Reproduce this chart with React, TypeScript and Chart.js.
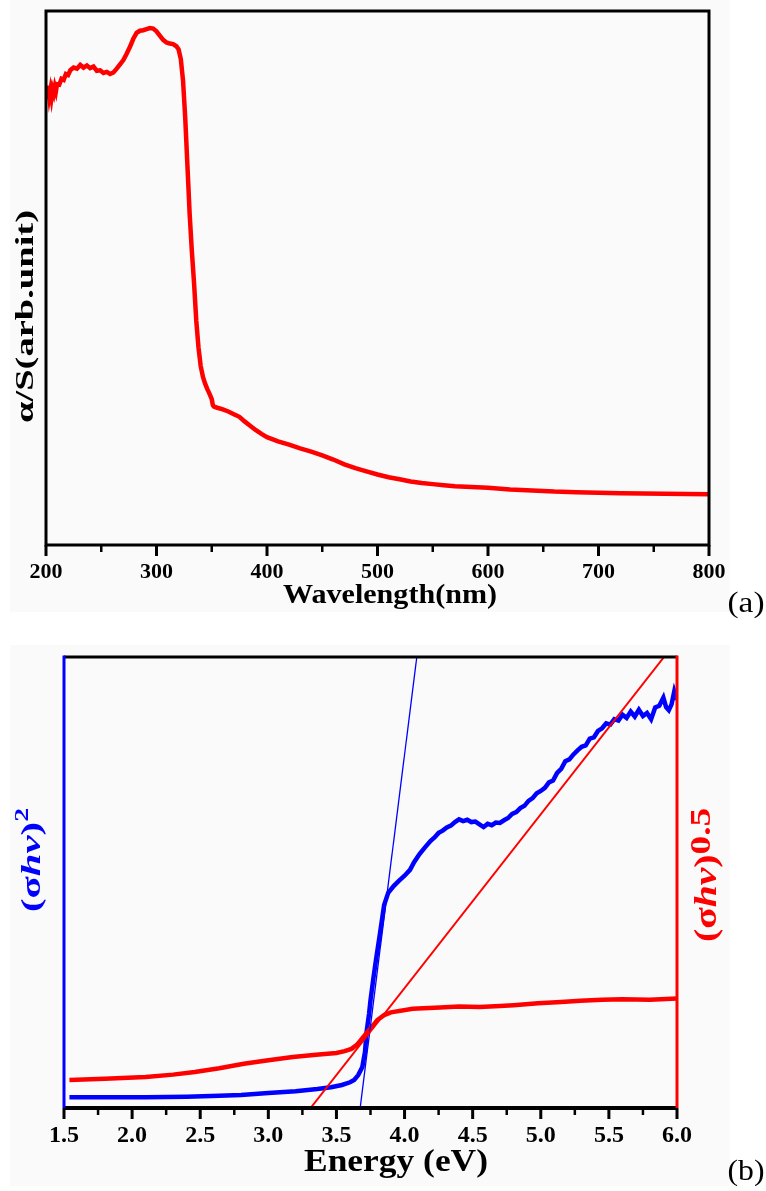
import React, { useEffect, useRef } from "react";
import { Chart, registerables } from "chart.js";

Chart.register(...registerables);

// ---------- Panel (a) data ----------
const wavelength = [
  200, 201, 202, 203, 204, 205, 206, 207, 208, 209, 210, 212, 214, 216, 218, 220, 222, 225, 228, 231,
  234, 237, 240, 243, 246, 249, 252, 255, 258, 261, 264, 267, 270, 273, 276, 279, 282, 285, 288, 291,
  294, 297, 300, 303, 306, 309, 312, 315, 318, 320, 322, 324, 326, 328, 330, 332, 334, 336, 338, 340,
  342, 344, 346, 348, 350, 351, 352, 355, 360, 365, 370, 375, 380, 385, 390, 395, 400, 410, 420, 430,
  440, 450, 460, 470, 480, 490, 500, 510, 520, 530, 540, 550, 560, 570, 580, 590, 600, 620, 640, 660,
  680, 700, 720, 740, 760, 780, 800,
];
const absorbance = [
  85.5, 83.5, 86, 84, 85.2, 83.8, 85.3, 84.6, 85.8, 85, 86.3, 86.2, 87.3, 87.1, 88.2, 88, 88.9, 89.4, 89.2, 89.9,
  89.4, 89.8, 89.3, 89.6, 88.8, 88.9, 88.4, 88.6, 88.2, 88.5, 89.2, 90, 90.8, 92, 93.3, 94.8, 95.9, 96.3, 96.4, 96.6,
  96.8, 96.7, 96.2, 95.4, 94.6, 94.1, 93.9, 93.8, 93.4, 92.8, 91, 87, 80, 71, 62, 55, 49, 42, 37, 33.5,
  31.5, 30.2, 29.2, 28.3, 27.3, 26.2, 25.9, 25.7, 25.4, 25.0, 24.5, 24.0, 23.1, 22.3, 21.5, 20.8, 20.2, 19.4, 18.8, 18.1,
  17.5, 16.8, 16.0, 15.1, 14.4, 13.8, 13.2, 12.7, 12.3, 11.9, 11.6, 11.4, 11.2, 11.0, 10.9, 10.8, 10.7, 10.4, 10.2, 10.0,
  9.9, 9.8, 9.7, 9.65, 9.6, 9.55, 9.5,
];
const wavelengthMajorTicks = [200, 300, 400, 500, 600, 700, 800];
const wavelengthTickLabels = ["200", "300", "400", "500", "600", "700", "800"];

// ---------- Panel (b) data ----------
const energyBlue = [
  1.54, 1.8, 2.1, 2.4, 2.64, 2.8, 3.0, 3.2, 3.36, 3.46, 3.54, 3.6, 3.63, 3.66, 3.69, 3.71, 3.72, 3.74, 3.75, 3.77,
  3.79, 3.82, 3.85, 3.88, 3.92, 3.96, 4.0, 4.04, 4.07, 4.11, 4.15, 4.19, 4.22, 4.25, 4.28, 4.31, 4.34, 4.37, 4.4, 4.43,
  4.46, 4.49, 4.52, 4.55, 4.58, 4.61, 4.64, 4.67, 4.7, 4.73, 4.76, 4.79, 4.82, 4.85, 4.88, 4.91, 4.94, 4.97, 5.0, 5.03,
  5.06, 5.09, 5.12, 5.15, 5.18, 5.21, 5.24, 5.27, 5.3, 5.33, 5.36, 5.39, 5.42, 5.45, 5.48, 5.51, 5.54, 5.57, 5.6, 5.63,
  5.66, 5.69, 5.72, 5.75, 5.78, 5.81, 5.84, 5.87, 5.9, 5.92, 5.94, 5.96, 5.98, 6.0,
];
const sigmaHvSquared = [
  2.4, 2.4, 2.4, 2.5, 2.7, 2.9, 3.3, 3.7, 4.2, 4.6, 5.1, 5.7, 6.2, 7.3, 9.1, 12.5, 16.6, 21, 23.9, 28.5,
  32.8, 38.8, 45.0, 47.7, 49.2, 50.4, 51.5, 52.8, 54.5, 56.3, 57.8, 59.2, 60.0, 61.0, 61.5, 62.2, 62.6, 63.4, 64.0, 63.6,
  63.9, 63.4, 63.5, 62.9, 62.3, 63.0, 62.7, 63.3, 63.2, 63.8, 64.3, 65.2, 65.6, 66.5, 67.0, 68.1, 68.7, 69.8, 70.3, 71.0,
  72.2, 72.6, 74.3, 75.2, 76.9, 77.3, 78.4, 79.3, 80.1, 80.4, 81.9, 82.2, 83.6, 84.2, 85.3, 85.0, 86.2, 85.9, 87.2, 86.5,
  87.9, 86.8, 88.3, 86.9, 87.6, 86.2, 88.8, 89.2, 91.0, 88.9, 88.2, 89.5, 92.4, 90.5,
];
const energyRed = [
  1.54, 1.8, 2.1, 2.3, 2.46, 2.64, 2.82, 3.0, 3.18, 3.35, 3.5, 3.56, 3.61, 3.65, 3.68, 3.72, 3.76, 3.8, 3.85, 3.9,
  4.06, 4.26, 4.4, 4.55, 4.7, 4.8, 4.98, 5.15, 5.29, 5.45, 5.6, 5.8, 6.0,
];
const sigmaHvHalf = [
  6.2, 6.5, 6.9, 7.4, 8.0, 8.8, 9.8, 10.6, 11.3, 11.8, 12.2, 12.6, 13.1, 14.0, 15.1, 16.6, 18.0, 19.5, 20.6, 21.2,
  22.0, 22.3, 22.5, 22.4, 22.6, 22.8, 23.2, 23.5, 23.8, 24.0, 24.1, 24.0, 24.3,
];
const blueFitEnergy = [3.674, 4.09];
const blueFitValues = [0, 100];
const redFitEnergy = [3.31, 5.905];
const redFitValues = [0, 100];
const energyMajorTicks = [1.5, 2.0, 2.5, 3.0, 3.5, 4.0, 4.5, 5.0, 5.5, 6.0];
const energyTickLabels = ["1.5", "2.0", "2.5", "3.0", "3.5", "4.0", "4.5", "5.0", "5.5", "6.0"];

const SERIF = '"Liberation Serif", "Times New Roman", serif';
const PANEL_BG = "#fafafa";

type Part = { text: string; font: string; dy?: number };

function drawVerticalRich(
  ctx: CanvasRenderingContext2D,
  parts: Part[],
  cx: number,
  cy: number,
  targetLen: number,
  baseOffset: number,
  color: string
) {
  ctx.save();
  ctx.fillStyle = color;
  const widths: number[] = [];
  let total = 0;
  for (const p of parts) {
    ctx.font = p.font;
    const w = ctx.measureText(p.text).width;
    widths.push(w);
    total += w;
  }
  const sx = targetLen / total;
  ctx.translate(cx, cy);
  ctx.rotate(-Math.PI / 2);
  ctx.scale(sx, 1);
  ctx.textBaseline = "alphabetic";
  ctx.textAlign = "left";
  let x = -total / 2;
  parts.forEach((p, i) => {
    ctx.font = p.font;
    ctx.fillText(p.text, x, baseOffset + (p.dy || 0));
    x += widths[i];
  });
  ctx.restore();
}

function drawHorizontalScaled(
  ctx: CanvasRenderingContext2D,
  text: string,
  font: string,
  cx: number,
  cy: number,
  targetWidth: number,
  color: string
) {
  ctx.save();
  ctx.font = font;
  ctx.fillStyle = color;
  const w = ctx.measureText(text).width;
  ctx.translate(cx, cy);
  ctx.scale(targetWidth / w, 1);
  ctx.textAlign = "center";
  ctx.textBaseline = "middle";
  ctx.fillText(text, 0, 0);
  ctx.restore();
}

function matchIndex(list: number[], v: number) {
  for (let i = 0; i < list.length; i++) if (Math.abs(list[i] - v) < 1e-6) return i;
  return -1;
}

function tickMarksPlugin(majors: number[], majorLen: number, minorLen: number) {
  return {
    id: "tickMarks",
    afterDatasetsDraw(chart: any) {
      const { ctx, chartArea } = chart;
      const scale = chart.scales.x;
      ctx.save();
      ctx.strokeStyle = "#000";
      scale.ticks.forEach((t: any) => {
        const px = scale.getPixelForValue(t.value);
        const major = matchIndex(majors, t.value) >= 0;
        ctx.lineWidth = major ? 3 : 2.5;
        ctx.beginPath();
        ctx.moveTo(px, chartArea.bottom);
        ctx.lineTo(px, chartArea.bottom + (major ? majorLen : minorLen));
        ctx.stroke();
      });
      ctx.restore();
    },
  };
}

function ChartA() {
  const ref = useRef<HTMLCanvasElement>(null);
  useEffect(() => {
    const canvas = ref.current!;
    const chart = new Chart(canvas, {
      type: "line",
      data: {
        datasets: [
          {
            data: wavelength.map((x, i) => ({ x, y: absorbance[i] })),
            borderColor: "#ff0000",
            borderWidth: 4.5,
            pointRadius: 0,
            tension: 0,
            fill: false,
          },
        ],
      },
      options: {
        responsive: false,
        animation: false,
        events: [],
        layout: { padding: { left: 46, right: 57, top: 11, bottom: 0 } },
        plugins: { legend: { display: false }, tooltip: { enabled: false } },
        scales: {
          x: {
            type: "linear",
            min: 200,
            max: 800,
            afterFit: (s: any) => {
              s.height = 75;
            },
            grid: { display: false, drawTicks: false },
            border: { display: false },
            ticks: {
              stepSize: 50,
              autoSkip: false,
              maxRotation: 0,
              padding: 16.5,
              color: "#000",
              font: { family: SERIF, size: 22, weight: "bold", lineHeight: 1 },
              callback: (v: any) => {
                const i = matchIndex(wavelengthMajorTicks, Number(v));
                return i >= 0 ? wavelengthTickLabels[i] : "";
              },
            },
          },
          y: { display: false, min: 0, max: 100 },
        },
      },
      plugins: [
        {
          id: "bgA",
          beforeDraw(c: any) {
            const ctx = c.ctx;
            ctx.save();
            ctx.fillStyle = PANEL_BG;
            ctx.fillRect(10, 0, 720, 612);
            ctx.restore();
          },
        },
        tickMarksPlugin(wavelengthMajorTicks, 11, 7),
        {
          id: "frameA",
          afterDatasetsDraw(c: any) {
            const { ctx, chartArea: a } = c;
            ctx.save();
            ctx.strokeStyle = "#000";
            ctx.lineWidth = 3;
            ctx.strokeRect(a.left, a.top, a.right - a.left, a.bottom - a.top);
            ctx.restore();
          },
        },
        {
          id: "labelsA",
          afterDraw(c: any) {
            const ctx = c.ctx;
            drawVerticalRich(
              ctx,
              [{ text: "α/S(arb.unit)", font: `bold 25px ${SERIF}` }],
              26.5,
              316.5,
              213,
              6.5,
              "#000"
            );
            drawHorizontalScaled(ctx, "Wavelength(nm)", `bold 28px ${SERIF}`, 390, 596, 214, "#000");
            drawHorizontalScaled(ctx, "(a)", `29px ${SERIF}`, 746, 604, 37, "#000");
          },
        },
      ],
    } as any);
    return () => chart.destroy();
  }, []);
  return <canvas ref={ref} width={766} height={620} style={{ display: "block", width: 766, height: 620 }} />;
}

function ChartB() {
  const ref = useRef<HTMLCanvasElement>(null);
  useEffect(() => {
    const canvas = ref.current!;
    const chart = new Chart(canvas, {
      type: "line",
      data: {
        datasets: [
          {
            data: redFitEnergy.map((x, i) => ({ x, y: redFitValues[i] })),
            borderColor: "#ff0000",
            borderWidth: 2,
            pointRadius: 0,
            yAxisID: "y1",
          },
          {
            data: blueFitEnergy.map((x, i) => ({ x, y: blueFitValues[i] })),
            borderColor: "#0000ff",
            borderWidth: 1.3,
            pointRadius: 0,
            yAxisID: "y",
          },
          {
            data: energyRed.map((x, i) => ({ x, y: sigmaHvHalf[i] })),
            borderColor: "#ff0000",
            borderWidth: 4.5,
            pointRadius: 0,
            yAxisID: "y1",
          },
          {
            data: energyBlue.map((x, i) => ({ x, y: sigmaHvSquared[i] })),
            borderColor: "#0000ff",
            borderWidth: 4.5,
            pointRadius: 0,
            yAxisID: "y",
          },
        ],
      },
      options: {
        responsive: false,
        animation: false,
        events: [],
        layout: { padding: { left: 64, right: 89, top: 37, bottom: 0 } },
        plugins: { legend: { display: false }, tooltip: { enabled: false } },
        elements: { line: { tension: 0, fill: false } },
        scales: {
          x: {
            type: "linear",
            min: 1.5,
            max: 6,
            afterFit: (s: any) => {
              s.height = 83;
            },
            grid: { display: false, drawTicks: false },
            border: { display: false },
            ticks: {
              stepSize: 0.25,
              autoSkip: false,
              maxRotation: 0,
              padding: 15.5,
              color: "#000",
              font: { family: SERIF, size: 24, weight: "bold", lineHeight: 1 },
              callback: (v: any) => {
                const i = matchIndex(energyMajorTicks, Number(v));
                return i >= 0 ? energyTickLabels[i] : "";
              },
            },
          },
          y: { display: false, min: 0, max: 100, position: "left" },
          y1: { display: false, min: 0, max: 100, position: "right" },
        },
      },
      plugins: [
        {
          id: "bgB",
          beforeDraw(c: any) {
            const ctx = c.ctx;
            ctx.save();
            ctx.fillStyle = PANEL_BG;
            ctx.fillRect(10, 25, 720, 541);
            ctx.restore();
          },
        },
        tickMarksPlugin(energyMajorTicks, 11, 7),
        {
          id: "frameB",
          afterDatasetsDraw(c: any) {
            const { ctx, chartArea: a } = c;
            ctx.save();
            ctx.lineCap = "butt";
            ctx.lineWidth = 3;
            ctx.strokeStyle = "#000";
            ctx.beginPath();
            ctx.moveTo(a.left, a.top);
            ctx.lineTo(a.right, a.top);
            ctx.stroke();
            ctx.lineWidth = 4;
            ctx.beginPath();
            ctx.moveTo(a.left, a.bottom);
            ctx.lineTo(a.right, a.bottom);
            ctx.stroke();
            ctx.lineWidth = 3;
            ctx.strokeStyle = "#0000ff";
            ctx.beginPath();
            ctx.moveTo(a.left, a.top - 1.5);
            ctx.lineTo(a.left, a.bottom);
            ctx.stroke();
            ctx.strokeStyle = "#ff0000";
            ctx.beginPath();
            ctx.moveTo(a.right, a.top - 1.5);
            ctx.lineTo(a.right, a.bottom);
            ctx.stroke();
            ctx.restore();
          },
        },
        {
          id: "labelsB",
          afterDraw(c: any) {
            const ctx = c.ctx;
            drawVerticalRich(
              ctx,
              [
                { text: "(σ", font: `bold 28px ${SERIF}` },
                { text: "hv", font: `italic bold 28px ${SERIF}` },
                { text: ")", font: `bold 28px ${SERIF}` },
                { text: "2", font: `bold 19px ${SERIF}`, dy: -12 },
              ],
              33,
              240,
              104,
              6.5,
              "#0000ff"
            );
            drawVerticalRich(
              ctx,
              [
                { text: "(σ", font: `bold 32px ${SERIF}` },
                { text: "hv", font: `italic bold 32px ${SERIF}` },
                { text: ")", font: `bold 32px ${SERIF}` },
                { text: "0.5", font: `bold 30px ${SERIF}`, dy: -6 },
              ],
              707.5,
              255,
              134,
              8,
              "#ff0000"
            );
            drawHorizontalScaled(ctx, "Energy (eV)", `bold 31px ${SERIF}`, 396, 543, 184, "#000");
            drawHorizontalScaled(ctx, "(b)", `29px ${SERIF}`, 746, 552, 37, "#000");
          },
        },
      ],
    } as any);
    return () => chart.destroy();
  }, []);
  return <canvas ref={ref} width={766} height={571} style={{ display: "block", width: 766, height: 571 }} />;
}

export default function App() {
  return (
    <div style={{ position: "absolute", left: 0, top: 0, width: 766, height: 1191, background: "#fff", overflow: "hidden" }}>
      <ChartA />
      <ChartB />
    </div>
  );
}
